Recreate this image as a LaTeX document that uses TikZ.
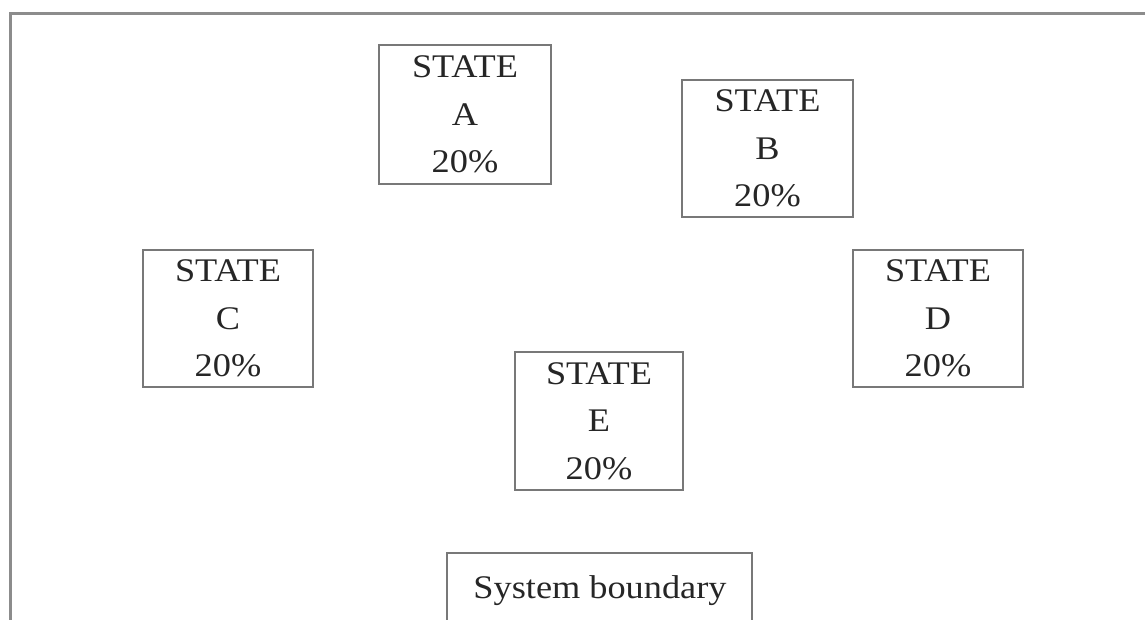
\documentclass[tikz,border=0pt]{standalone}
\usepackage{fontspec}
\setmainfont{Liberation Serif}
\newfontfamily\widefont[FakeStretch=1.1]{Liberation Serif}
\definecolor{framegray}{RGB}{140,140,140}
\definecolor{boxgray}{RGB}{120,120,120}
\begin{document}
\begin{tikzpicture}[x=1pt,y=1pt,
  statebox/.style={draw=boxgray, line width=2.5pt, inner sep=0pt, align=center,
    font=\widefont\fontsize{33}{47.5}\selectfont, text=black!85},
  labeltext/.style={inner sep=0pt, font=\widefont\fontsize{33}{44}\selectfont, text=black!85}]
\useasboundingbox (0,0) rectangle (1145,619);
\fill[white] (0,0) rectangle (1145,619);
% outer frame (open right and bottom)
\coordinate (ftop) at (1150,605.5);
\coordinate (fcorner) at (10.5,605.5);
\coordinate (fbot) at (10.5,-10);
\draw[framegray, line width=3pt] (ftop) -- (fcorner) -- (fbot);
% states
\node[statebox, minimum width=172, minimum height=139] (A) at (465,504.5) {STATE\\A\\20\%};
\node[statebox, minimum width=171, minimum height=137] (B) at (767.5,470.5) {STATE\\B\\20\%};
\node[statebox, minimum width=170, minimum height=137] (C) at (228,300.5) {STATE\\C\\20\%};
\node[statebox, minimum width=170, minimum height=137] (D) at (938,300.5) {STATE\\D\\20\%};
\node[statebox, minimum width=168, minimum height=138] (E) at (599,198) {STATE\\E\\20\%};
% system boundary
\node[labeltext, anchor=base] (sb) at (600,21) {System boundary};
\coordinate (sbl) at (447,-10);
\coordinate (sbtl) at (447,66);
\coordinate (sbtr) at (752,66);
\coordinate (sbr) at (752,-10);
\draw[boxgray, line width=2.5pt] (sbl) -- (sbtl) -- (sbtr) -- (sbr);
\end{tikzpicture}
\end{document}
